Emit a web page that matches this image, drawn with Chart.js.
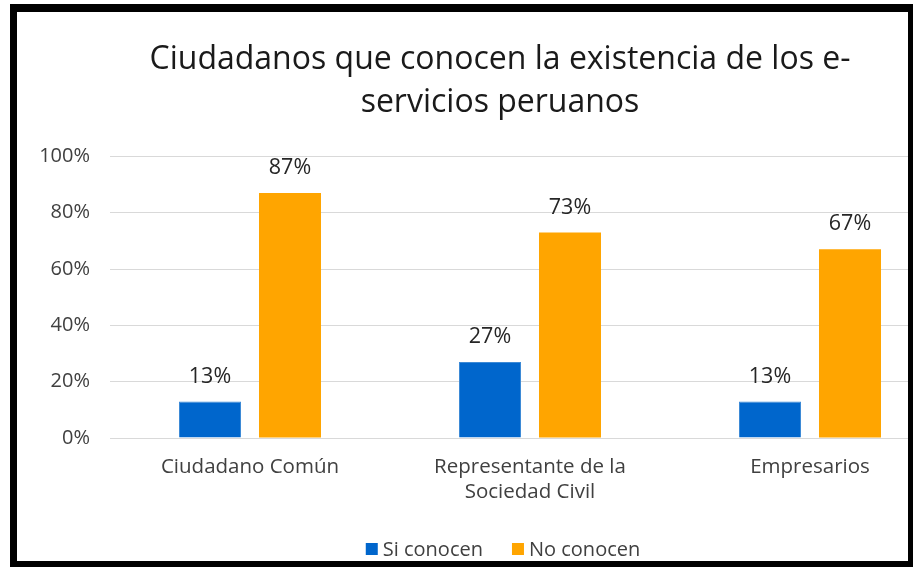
<!DOCTYPE html>
<html>
<head>
<meta charset="utf-8">
<script src="https://cdn.jsdelivr.net/npm/chart.js@4.4.0/dist/chart.umd.min.js"></script>
<style>
  html, body { margin: 0; padding: 0; background: #ffffff; }
  body { width: 913px; height: 567px; overflow: hidden; position: relative; }
  #wrap { position: absolute; left: 17px; top: 12px; width: 966px; height: 549px; overflow: visible; }
  #frame { position: absolute; left: 10px; top: 4px; width: 903px; height: 563px; box-sizing: border-box;
           border-left: 7px solid #000; border-top: 8px solid #000; border-right: 5px solid #000; border-bottom: 6px solid #000;
           pointer-events: none; }
</style>
</head>
<body>
<div id="wrap"><canvas id="c" width="966" height="549"></canvas></div>
<div id="frame"></div>
<script>
const categories = [["Ciudadano Común"], ["Representante de la", "Sociedad Civil"], ["Empresarios"]];
const siConocen = [13, 27, 13];
const noConocen = [87, 73, 67];
const yTicks = [0, 20, 40, 60, 80, 100];
const titleLines = ["Ciudadanos que conocen la existencia de los e-", "servicios peruanos"];
const seriesNames = ["Si conocen", "No conocen"];
const seriesColors = ["#0066CC", "#FFA500"];

const FONT = "Open Sans";

const dataLabels = {
  id: 'dataLabels',
  afterDatasetsDraw(chart) {
    const ctx = chart.ctx;
    ctx.save();
    ctx.font = "21.5px '" + FONT + "'";
    ctx.fillStyle = '#262626';
    ctx.textAlign = 'center';
    ctx.textBaseline = 'middle';
    chart.data.datasets.forEach((ds, i) => {
      const meta = chart.getDatasetMeta(i);
      meta.data.forEach((bar, j) => {
        ctx.fillText(ds.data[j] + '%', bar.x, bar.y - 25);
      });
    });
    ctx.restore();
  }
};

const bottomLegend = {
  id: 'bottomLegend',
  afterDraw(chart) {
    const ctx = chart.ctx;
    ctx.save();
    ctx.font = "20px '" + FONT + "'";
    ctx.textBaseline = 'middle';
    ctx.textAlign = 'left';
    const box = 12, gap = 5, itemGap = 29;
    const ds = chart.data.datasets;
    const widths = ds.map(d => box + gap + ctx.measureText(d.label).width);
    const total = widths.reduce((a, b) => a + b, 0) + itemGap * (ds.length - 1);
    let x = chart.width / 2 + 3 - total / 2;
    const y = chart.height - 12;
    ds.forEach((d, i) => {
      ctx.fillStyle = d.backgroundColor;
      ctx.fillRect(x, y - box / 2, box, box);
      ctx.fillStyle = '#404040';
      ctx.fillText(d.label, x + box + gap, y + 1);
      x += widths[i] + itemGap;
    });
    ctx.restore();
  }
};

new Chart(document.getElementById('c'), {
  type: 'bar',
  data: {
    labels: categories,
    datasets: [
      { label: seriesNames[0], data: siConocen, backgroundColor: seriesColors[0], borderColor: '#3d8ad6', borderWidth: 1,
        categoryPercentage: 0.5714, barPercentage: 0.775 },
      { label: seriesNames[1], data: noConocen, backgroundColor: seriesColors[1], borderWidth: 0,
        categoryPercentage: 0.5714, barPercentage: 0.775 }
    ]
  },
  options: {
    responsive: false,
    animation: false,
    devicePixelRatio: 1,
    layout: { padding: 0 },
    plugins: {
      title: {
        display: true,
        text: titleLines,
        font: { family: FONT, size: 32, weight: 'normal', lineHeight: 1.35 },
        color: '#1a1a1a',
        padding: { top: 26, bottom: 32 }
      },
      legend: { display: false },
      tooltip: { enabled: false }
    },
    scales: {
      x: {
        grid: { display: false },
        border: { display: false },
        afterFit(axis) { axis.height = 123; },
        ticks: { font: { family: FONT, size: 20.5 }, color: '#404040', padding: 9, maxRotation: 0 }
      },
      y: {
        min: 0, max: 100,
        afterBuildTicks(axis) { axis.ticks = yTicks.map(v => ({ value: v })); },
        afterFit(axis) { axis.width = 93; },
        grid: { color: '#d9d9d9', drawTicks: false },
        border: { display: false },
        ticks: { font: { family: FONT, size: 20 }, color: '#404040', padding: 20,
                 callback: v => v + '%' }
      },
      yPad: {
        position: 'right',
        min: 0, max: 100,
        afterFit(axis) { axis.width = 33; },
        grid: { display: false, drawTicks: false },
        border: { display: false },
        ticks: { display: false }
      }
    }
  },
  plugins: [dataLabels, bottomLegend]
});
</script>
</body>
</html>
